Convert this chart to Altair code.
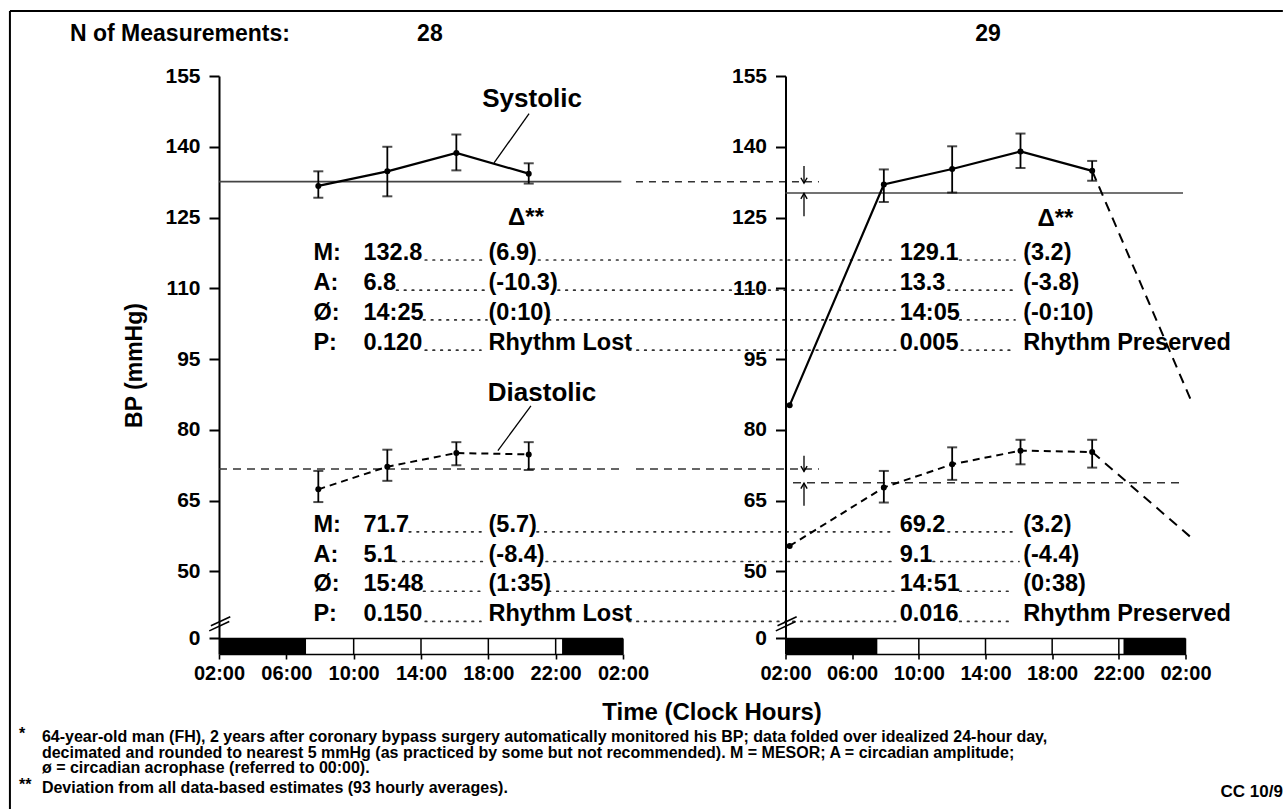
import altair as alt
import pandas as pd

FONT = "Liberation Sans"

# ---------------- values ----------------
hours = [7.9, 12.0, 16.1, 20.4]

# left panel (N = 28)
left_sys = [131.7, 134.8, 138.7, 134.3]
left_sys_lo = [129.2, 129.5, 135.0, 132.2]
left_sys_hi = [134.8, 140.0, 142.6, 136.5]
left_dia = [67.4, 72.2, 75.1, 74.8]
left_dia_lo = [64.7, 69.2, 72.5, 71.5]
left_dia_hi = [71.3, 75.8, 77.4, 77.4]

# right panel (N = 29)
right_hours = [2.25, 7.9, 12.0, 16.1, 20.4]
right_sys = [85.2, 132.0, 135.3, 139.0, 134.9]
right_dia = [55.4, 67.8, 72.7, 75.6, 75.3]
right_sys_lo = [128.3, 130.3, 135.5, 132.8]
right_sys_hi = [135.2, 140.1, 142.8, 137.0]
right_dia_lo = [64.6, 69.4, 72.7, 72.0]
right_dia_hi = [71.3, 76.3, 77.9, 77.9]
tail_hours = [20.4, 26.3]
right_sys_tail = [134.9, 86.5]
right_dia_tail = [75.3, 57.3]

# MESOR reference lines
left_sys_mesor = 132.6
right_sys_mesor = 130.2
left_dia_mesor = 71.7
right_dia_mesor = 68.8

# statistics text
row_labels = ["M:", "A:", "\u00d8:", "P:"]
left_sys_vals = ["132.8", "6.8", "14:25", "0.120"]
left_sys_dev = ["(6.9)", "(-10.3)", "(0:10)", "Rhythm Lost"]
right_sys_vals = ["129.1", "13.3", "14:05", "0.005"]
right_sys_dev = ["(3.2)", "(-3.8)", "(-0:10)", "Rhythm Preserved"]
left_dia_vals = ["71.7", "5.1", "15:48", "0.150"]
left_dia_dev = ["(5.7)", "(-8.4)", "(1:35)", "Rhythm Lost"]
right_dia_vals = ["69.2", "9.1", "14:51", "0.016"]
right_dia_dev = ["(3.2)", "(-4.4)", "(0:38)", "Rhythm Preserved"]
sys_rows = [116.0, 109.6, 103.3, 96.9]
dia_rows = [58.4, 52.1, 45.8, 39.4]

# dotted leaders (start, end) per row
left_sys_lead1 = [(14.25, 17.92), (12.55, 17.92), (14.15, 17.92), (14.25, 17.56)]
left_sys_lead2 = [(20.98, 42.19), (22.14, 42.19), (21.60, 42.19), (26.36, 42.19)]
left_dia_lead1 = [(13.3, 17.80), (12.45, 17.80), (14.15, 17.80), (14.25, 17.56)]
left_dia_lead2 = [(20.89, 42.19), (21.43, 42.19), (21.60, 42.19), (26.36, 42.19)]
right_sys_lead = [(12.45, 15.77), (11.75, 15.77), (12.45, 15.77), (12.55, 15.77)]
right_dia_lead = [(11.75, 15.65), (10.85, 16.01), (12.45, 15.65), (12.45, 15.65)]

hour_ticks = [2, 6, 10, 14, 18, 22, 26]
bp_ticks = [155, 140, 125, 110, 95, 80, 65, 50, 35.8]
box_top, box_bottom = 35.8, 32.5

footnotes = [
    "64-year-old man (FH), 2 years after coronary bypass surgery automatically monitored his BP; data folded over idealized 24-hour day,",
    "decimated and rounded to nearest 5 mmHg (as practiced by some but not recommended).  M = MESOR; A = circadian amplitude;",
    "\u00f8 = circadian acrophase (referred to 00:00).",
    "Deviation from all data-based estimates (93 hourly averages).",
]
footnote_marks = ["*", "**"]

# ---------------- scales and axes ----------------
xs = alt.Scale(domain=[2, 26], nice=False, zero=False)
ys = alt.Scale(domain=[box_bottom, 155], nice=False, zero=False)

XA = alt.Axis(values=hour_ticks,
              labelExpr="(datum.value % 24 < 10 ? '0' : '') + (datum.value % 24) + ':00'",
              title=None, grid=False, domainColor="black", domainWidth=1.6,
              tickColor="black", tickWidth=1.6, tickSize=5,
              labelFont=FONT, labelFontSize=20, labelFontWeight="bold", labelColor="black",
              labelPadding=4, labelFlush=False, labelOverlap=False)


def yaxis(title):
    kw = dict(values=bp_ticks, labelExpr="datum.value < 40 ? '0' : datum.label",
              grid=False, domainColor="black", domainWidth=2,
              tickColor="black", tickWidth=2, tickSize=10,
              labelFont=FONT, labelFontSize=21, labelFontWeight="bold", labelColor="black",
              labelPadding=9, labelOverlap=False)
    if title:
        kw.update(title=title, titleFont=FONT, titleFontSize=23, titleFontWeight="bold",
                  titleColor="black", titlePadding=18)
    else:
        kw["title"] = None
    return alt.Axis(**kw)


YL = yaxis("BP (mmHg)")
YR = yaxis(None)


def segs(df, ya, **mk):
    return alt.Chart(df).mark_rule(clip=False, **mk).encode(
        x=alt.X("x:Q", scale=xs, axis=XA), x2="x2:Q",
        y=alt.Y("y:Q", scale=ys, axis=ya), y2="y2:Q")


def rects(df, ya, **mk):
    return alt.Chart(df).mark_rect(clip=False, **mk).encode(
        x=alt.X("x:Q", scale=xs, axis=XA), x2="x2:Q",
        y=alt.Y("y:Q", scale=ys, axis=ya), y2="y2:Q")


def texts(df, ya, **mk):
    return alt.Chart(df).mark_text(clip=False, font=FONT, color="black", **mk).encode(
        x=alt.X("x:Q", scale=xs, axis=XA),
        y=alt.Y("y:Q", scale=ys, axis=ya), text="text:N")


def line(xv, yv, ya, **mk):
    df = pd.DataFrame({"x": xv, "y": yv})
    return alt.Chart(df).mark_line(clip=False, color="black", **mk).encode(
        x=alt.X("x:Q", scale=xs, axis=XA), y=alt.Y("y:Q", scale=ys, axis=ya))


def pts(xv, yv, ya):
    df = pd.DataFrame({"x": xv, "y": yv})
    return alt.Chart(df).mark_point(filled=True, color="black", size=36, opacity=1).encode(
        x=alt.X("x:Q", scale=xs, axis=XA), y=alt.Y("y:Q", scale=ys, axis=ya))


def errbars(xv, lo, hi, ya):
    df = pd.DataFrame({"x": xv, "x2": xv, "y": lo, "y2": hi})
    bars = segs(df, ya, color="black", strokeWidth=1.8)
    caps_df = pd.DataFrame({"x": list(xv) * 2, "y": list(lo) + list(hi)})
    caps = alt.Chart(caps_df).mark_tick(orient="horizontal", size=10, thickness=2, color="black").encode(
        x=alt.X("x:Q", scale=xs, axis=XA), y=alt.Y("y:Q", scale=ys, axis=ya))
    return [bars, caps]


def hline(x0, x1, y, ya, **mk):
    return segs(pd.DataFrame({"x": [x0], "x2": [x1], "y": [y], "y2": [y]}), ya, **mk)


def leaders(pairs, rows, ya):
    df = pd.DataFrame({"x": [p[0] for p in pairs], "x2": [p[1] for p in pairs], "y": rows, "y2": rows})
    return segs(df, ya, color="#333", strokeWidth=1.7, strokeDash=[1.6, 6.2], strokeCap="round")


def stat_block(xpos, strs, rows, ya, align="left"):
    df = pd.DataFrame({"x": [xpos] * len(strs), "y": rows, "text": strs})
    return texts(df, ya, align=align, baseline="alphabetic", fontSize=23.5, fontWeight="bold")


def panel_common(ya, dark):
    lay = []
    lay.append(rects(pd.DataFrame({"x": [d[0] for d in dark], "x2": [d[1] for d in dark],
                                   "y": [box_bottom] * 2, "y2": [box_top] * 2}), ya, color="black"))
    lay.append(hline(2, 26, box_top, ya, color="black", strokeWidth=1.6))
    inner = [6, 10, 14, 18, 22, 26]
    lay.append(segs(pd.DataFrame({"x": inner, "x2": inner, "y": [box_bottom] * 6, "y2": [box_top] * 6}),
                    ya, color="black", strokeWidth=1.5))
    brk = pd.DataFrame({"x": [1.52, 1.42], "x2": [2.67, 2.61], "y": [38.5, 37.4], "y2": [40.4, 39.4]})
    lay.append(segs(brk, ya, color="black", strokeWidth=1.6))
    return lay


# ---------------- left panel ----------------
frame_left, frame_right, frame_top, frame_bottom = -10.42, 65.2, 168.8, -1.8

L = []
L.append(segs(pd.DataFrame({"x": [frame_left, frame_left], "x2": [frame_left, frame_right],
                            "y": [frame_top, frame_top], "y2": [frame_bottom, frame_top]}),
              YL, color="black", strokeWidth=2))
L += panel_common(YL, [(2, 7.17), (22.38, 26)])
L.append(hline(2, 25.9, left_sys_mesor, YL, color="#444", strokeWidth=1.7))
L.append(hline(26.77, 37.64, left_sys_mesor, YL, color="#333", strokeWidth=1.6, strokeDash=[7, 6]))
L.append(hline(2, 25.9, left_dia_mesor, YL, color="#333", strokeWidth=1.6, strokeDash=[8, 6]))
L.append(hline(26.77, 37.64, left_dia_mesor, YL, color="#333", strokeWidth=1.6, strokeDash=[8, 6]))
L.append(line(hours, left_sys, YL, strokeWidth=2.2))
L.append(line(hours, left_dia, YL, strokeWidth=2, strokeDash=[7, 5]))
L += errbars(hours, left_sys_lo, left_sys_hi, YL)
L += errbars(hours, left_dia_lo, left_dia_hi, YL)
L.append(pts(hours, left_sys, YL))
L.append(pts(hours, left_dia, YL))
# series names with their pointer lines
L.append(texts(pd.DataFrame({"x": [20.6, 21.19], "y": [150.1, 87.8], "text": ["Systolic", "Diastolic"]}),
               YL, align="center", baseline="middle", fontSize=26, fontWeight="bold"))
L.append(segs(pd.DataFrame({"x": [20.42, 20.53], "x2": [18.34, 18.57], "y": [147.0, 85.1], "y2": [136.6, 75.6]}),
              YL, color="black", strokeWidth=1.3))
# statistics
L.append(leaders(left_sys_lead1, sys_rows, YL))
L.append(leaders(left_sys_lead2, sys_rows, YL))
L.append(leaders(left_dia_lead1, dia_rows, YL))
L.append(leaders(left_dia_lead2, dia_rows, YL))
L.append(stat_block(7.61, row_labels, sys_rows, YL))
L.append(stat_block(10.58, left_sys_vals, sys_rows, YL))
L.append(stat_block(18.01, left_sys_dev, sys_rows, YL))
L.append(stat_block(7.61, row_labels, dia_rows, YL))
L.append(stat_block(10.58, left_dia_vals, dia_rows, YL))
L.append(stat_block(18.01, left_dia_dev, dia_rows, YL))
L.append(texts(pd.DataFrame({"x": [20.24], "y": [125.0], "text": ["\u0394**"]}),
               YL, align="center", baseline="middle", fontSize=24, fontWeight="bold"))
# header, axis title, footnotes
L.append(texts(pd.DataFrame({"x": [-6.85], "y": [163.9], "text": ["N of Measurements:"]}),
               YL, align="left", baseline="middle", fontSize=23, fontWeight="bold"))
L.append(texts(pd.DataFrame({"x": [14.53], "y": [163.9], "text": ["28"]}),
               YL, align="center", baseline="middle", fontSize=23, fontWeight="bold"))
L.append(texts(pd.DataFrame({"x": [31.29], "y": [20.0], "text": ["Time (Clock Hours)"]}),
               YL, align="center", baseline="middle", fontSize=24, fontWeight="bold"))
L.append(texts(pd.DataFrame({"x": [-8.52] * 4, "y": [14.9, 11.6, 8.4, 4.1], "text": footnotes}),
               YL, align="left", baseline="middle", fontSize=16, fontWeight="bold"))
L.append(texts(pd.DataFrame({"x": [-9.88, -9.88], "y": [15.5, 4.7], "text": footnote_marks}),
               YL, align="left", baseline="middle", fontSize=16, fontWeight="bold"))

left = alt.layer(*L).properties(width=404, height=578)

# ---------------- right panel ----------------
R = []
R += panel_common(YR, [(2, 7.51), (22.28, 26)])
R.append(hline(2, 25.85, right_sys_mesor, YR, color="#444", strokeWidth=1.7))
R.append(hline(2.45, 25.85, right_dia_mesor, YR, color="#333", strokeWidth=1.6, strokeDash=[8, 6]))
# arrows marking the MESOR change
arrow_x = 3.11
R.append(segs(pd.DataFrame({"x": [arrow_x] * 4, "x2": [arrow_x] * 4,
                            "y": [135.9, 125.3, 74.5, 63.9], "y2": [132.3, 130.1, 71.2, 68.7]}),
              YR, color="black", strokeWidth=1.3))
R.append(alt.Chart(pd.DataFrame({"x": [arrow_x, arrow_x], "y": [132.3, 71.2]}))
         .mark_point(shape="M-0.7,-1.2L0,0L0.7,-1.2", filled=False, color="black", strokeWidth=1.4, size=80, opacity=1)
         .encode(x=alt.X("x:Q", scale=xs, axis=XA), y=alt.Y("y:Q", scale=ys, axis=YR)))
R.append(alt.Chart(pd.DataFrame({"x": [arrow_x, arrow_x], "y": [130.1, 68.7]}))
         .mark_point(shape="M-0.7,1.2L0,0L0.7,1.2", filled=False, color="black", strokeWidth=1.4, size=80, opacity=1)
         .encode(x=alt.X("x:Q", scale=xs, axis=XA), y=alt.Y("y:Q", scale=ys, axis=YR)))
R.append(line(right_hours, right_sys, YR, strokeWidth=2.2))
R.append(line(tail_hours, right_sys_tail, YR, strokeWidth=2, strokeDash=[10, 7]))
R.append(line(right_hours, right_dia, YR, strokeWidth=2, strokeDash=[7, 5]))
R.append(line(tail_hours, right_dia_tail, YR, strokeWidth=2, strokeDash=[10, 7]))
R += errbars(right_hours[1:], right_sys_lo, right_sys_hi, YR)
R += errbars(right_hours[1:], right_dia_lo, right_dia_hi, YR)
R.append(pts(right_hours, right_sys, YR))
R.append(pts(right_hours, right_dia, YR))
R.append(leaders(right_sys_lead, sys_rows, YR))
R.append(leaders(right_dia_lead, dia_rows, YR))
R.append(stat_block(8.85, right_sys_vals, sys_rows, YR))
R.append(stat_block(16.26, right_sys_dev, sys_rows, YR))
R.append(stat_block(8.85, right_dia_vals, dia_rows, YR))
R.append(stat_block(16.26, right_dia_dev, dia_rows, YR))
R.append(texts(pd.DataFrame({"x": [18.2], "y": [124.6], "text": ["\u0394**"]}),
               YR, align="center", baseline="middle", fontSize=24, fontWeight="bold"))
R.append(texts(pd.DataFrame({"x": [14.15], "y": [163.9], "text": ["29"]}),
               YR, align="center", baseline="middle", fontSize=23, fontWeight="bold"))
R.append(texts(pd.DataFrame({"x": [28.1], "y": [3.3], "text": ["CC 10/9"]}),
               YR, align="left", baseline="middle", fontSize=17, fontWeight="bold"))

right = alt.layer(*R).properties(width=400, height=578)

chart = (
    alt.hconcat(left, right, spacing=162.5, bounds="flush")
    .properties(padding={"left": 8, "top": 9, "right": 0, "bottom": 0}, background="white")
    .configure_view(stroke=None)
)

chart.save("out.html", embed_options={"renderer": "svg", "actions": False})
